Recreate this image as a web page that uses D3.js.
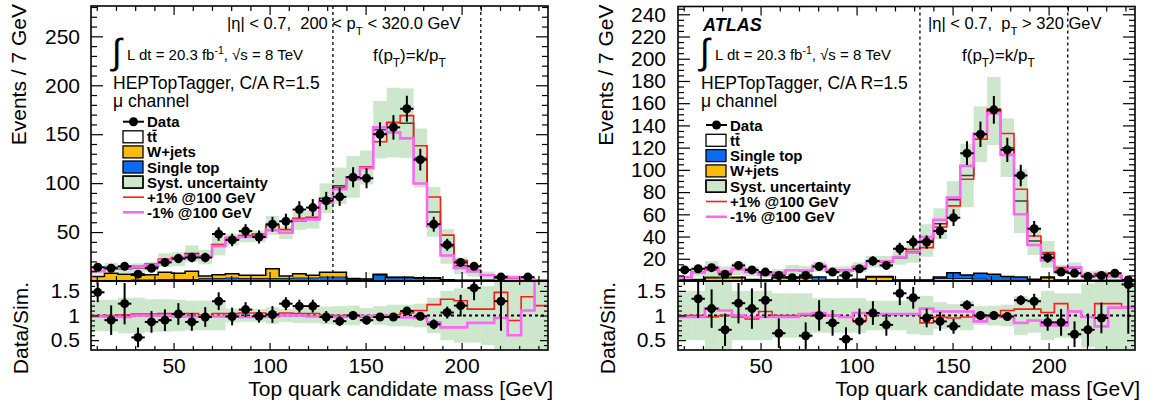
<!DOCTYPE html>
<html>
<head>
<meta charset="utf-8">
<script src="https://cdn.jsdelivr.net/npm/d3@7/dist/d3.min.js"></script>
<style>
  body { margin: 0; background: #fff; }
  svg { display: block; font-family: "Liberation Sans", Arial, Helvetica, sans-serif; }
  text { white-space: pre; }
</style>
</head>
<body>
<svg id="chart" width="1154" height="408"></svg>
<script>
// 34 bins of 7 GeV, 7..245 GeV
const massEdges = d3.range(7, 246, 7);

// ---------- 200 < pT < 320 GeV ----------
const dataLow = [14, 13, 15, 7, 13, 19, 23, 24, 24, 48, 42, 51, 45, 58, 61, 73, 75, 82, 86, 106,
  105, 150, 157, 176, 124, 58, 37, 19, 15, null, 4, null, 4, null];
const dataErrLow = [3.8, 3.6, 3.9, 2.7, 3.6, 4.4, 4.8, 4.9, 4.9, 6.9, 6.5, 7.1, 6.7, 7.6, 7.8, 8.5, 8.7, 9.1, 9.3, 10.3,
  10.2, 12.2, 12.5, 13.3, 11.1, 7.6, 6.1, 4.4, 3.9, 0, 2, 0, 2, 0];
const nominalLow = [10, 14, 12.1, 13.2, 14.6, 21.2, 22.3, 28, 24.4, 37.4, 42.3, 45.5, 45.6, 56.8, 49.4, 61.6, 63, 84.5, 97.4, 106.4,
  116, 154.6, 161.9, 161.3, 125.7, 70.6, 35.3, 15.5, 9.7, 6, 2.9, 3.3, 1.8, 0.6];
const upLow = [10.5, 13, 13, 15, 17.5, 22.5, 24, 27, 25.5, 37, 44.5, 46.5, 48, 57, 52.5, 64, 65, 81, 95.5, 104.7,
  116.7, 142.3, 162, 169, 138.2, 85.9, 46.9, 21, 11, 6, 4.5, 3, 1.5, 0.5];
const downLow = [10, 12.7, 12.7, 14, 16.5, 21.5, 23, 26, 25, 35.6, 43.5, 44.9, 45, 52, 49.3, 62.3, 63, 80, 93.8, 104,
  115.3, 157, 151.9, 145.7, 99.6, 56.2, 26.1, 13.4, 10, 5.9, 4.2, 3.6, 1.5, 0];
const singleTopLow = [1, 1, 1, 1.5, 1.5, 2, 2, 2, 3, 3, 3.5, 3, 3, 3, 3, 3.5, 3.5, 4.5, 4.5, 2,
  1.5, 6.5, 3.5, 3.5, 3, 3, 1, 0.5, 0.5, 0.5, 0.3, 0.3, 0.3, 0.3];
const wjetsLow = [3.5, 7, 6, 4.5, 5, 7, 6, 8, 2, 3.5, 4, 3, 3, 9.5, 2, 4, 2.5, 4.5, 4.5, 0.5,
  0.5, 0.5, 0.3, 0.3, 0.3, 0.3, 0.3, 0.3, 0.2, 0.2, 0.2, 0.2, 0.2, 0.2];
const systLow = [0.32, 0.32, 0.36, 0.36, 0.33, 0.33, 0.32, 0.3, 0.3, 0.3, 0.14, 0.13, 0.13, 0.17, 0.13, 0.15, 0.15, 0.18, 0.19, 0.2,
  0.15, 0.19, 0.22, 0.22, 0.24, 0.36, 0.5, 0.55, 0.55, 0.6, 0.8, 0.8, 0.8, 0.8];
const ratioLow = [1.47, 0.905, 1.24, 0.555, 0.87, 0.905, 1.03, 0.87, 0.97, 1.29, 0.98, 1.12, 0.985, 1.02, 1.24, 1.19, 1.19, 0.97, 0.885, 1.0,
  0.905, 0.97, 0.97, 1.09, 0.985, 0.82, 1.06, 1.2, 1.56, null, 1.29, null, null, null];
const ratioErrLow = [0.2, 0.3, 0.42, 0.2, 0.22, 0.22, 0.22, 0.18, 0.2, 0.18, 0.18, 0.15, 0.13, 0.17, 0.13, 0.13, 0.13, 0.12, 0.1, 0.09,
  0.09, 0.08, 0.08, 0.08, 0.08, 0.1, 0.12, 0.22, 0.25, 0, 0.6, 0, 0, 0];
const upRatioLow = [1.0, 1.0, 1.01, 1.03, 1.03, 1.04, 1.04, 1.04, 1.0, 1.04, 1.04, 1.05, 1.05, 1.02, 1.05, 1.04, 1.04, 1.0, 1.0, 1.0,
  0.97, 0.97, 1.0, 1.05, 1.1, 1.22, 1.33, 1.3, 1.13, 1.13, 1.47, 0.9, 1.38, 1.2];
const downRatioLow = [0.98, 0.97, 0.97, 1.0, 1.0, 1.0, 0.98, 0.98, 0.98, 0.98, 1.0, 0.97, 0.98, 0.98, 1.0, 1.0, 0.98, 0.97, 0.97, 0.99,
  0.99, 1.0, 0.98, 0.96, 0.95, 0.86, 0.76, 0.76, 0.85, 0.85, 0.95, 0.6, 1.1, 1.75];

// ---------- pT > 320 GeV ----------
const dataHigh = [10, 11, 12, 6, 14, 10, 8, 5, 3, 5, 13, 8, 5, 11, 18, 14, 29, 35, 35, 45,
  57, 115, 132, 154, 118, 95, 47, 21, 8, 7, 4, 5, 7, 1];
const dataErrHigh = [3.2, 3.3, 3.5, 2.4, 3.7, 3.2, 2.8, 2.2, 1.7, 2.2, 3.6, 2.8, 2.2, 3.3, 4.2, 3.7, 5.4, 5.9, 5.9, 6.7,
  7.5, 10.7, 11.5, 12.4, 10.9, 9.7, 6.9, 4.6, 2.8, 2.6, 2, 2.2, 2.6, 1];
const nominalHigh = [3.5, 7.8, 10.5, 7.7, 10.8, 8.5, 6, 7.5, 10, 9.2, 13, 9.4, 9.8, 12.5, 17.4, 17.3, 21, 26.5, 36.5, 51.5,
  73, 95, 132, 153, 120, 72, 36, 24, 10, 11.5, 5.3, 5.5, 4, 0.6];
const upHigh = [3.5, 7.8, 10, 7.7, 10.5, 8, 6.5, 7.5, 10, 9.2, 13.4, 9.4, 9.5, 11.3, 17.8, 17.6, 21.4, 28.6, 30, 48.6,
  67.6, 91.6, 127.7, 154.7, 132.7, 82.6, 40.5, 25.5, 12, 12.4, 5.2, 6.8, 5, 0.7];
const downHigh = [3.4, 7.6, 12, 8.5, 10.8, 8.2, 5.8, 7.3, 9.7, 9.5, 13.7, 9.4, 9.5, 13, 18, 17.8, 21.6, 25.5, 39.6, 55,
  75, 103.6, 132.7, 150.7, 113.5, 60, 32.4, 18.6, 8, 12.4, 5.1, 4.3, 4.6, 0.7];
const singleTopHigh = [0.3, 0.3, 0.3, 0.3, 0.3, 0.3, 0.3, 0.5, 0.5, 0.5, 3, 0.5, 0.5, 0.5, 0.5, 0.5, 0.5, 0.5, 0.5, 1,
  5, 3, 5, 5, 3.5, 3, 1, 0.5, 0.5, 0.3, 0.3, 0.3, 0.3, 0.3];
const wjetsHigh = [0.5, 1, 3, 3, 3, 1, 0.5, 3, 3, 3, 0.5, 0.5, 0.5, 1, 3.5, 3.5, 0.5, 0.5, 0.5, 2.5,
  2.5, 2.5, 2, 1, 0.5, 0.5, 0.5, 3, 0.5, 0.3, 0.3, 0.3, 0.3, 0.3];
const systHigh = [0.5, 0.5, 0.7, 0.7, 0.5, 0.5, 0.5, 0.45, 0.45, 0.45, 0.35, 0.35, 0.35, 0.35, 0.3, 0.3, 0.3, 0.38, 0.4, 0.27,
  0.23, 0.3, 0.19, 0.2, 0.22, 0.4, 0.35, 0.5, 0.45, 0.45, 0.65, 0.7, 0.7, 0.7];
const ratioHigh = [null, 1.34, 1.14, 0.71, 1.25, 1.14, 1.31, 0.64, null, 0.59, 1.0, 0.85, 0.52, 0.88, 1.05, 0.81, 1.45, 1.36, 0.95, 0.88,
  0.78, 1.21, 1.0, 1.0, 0.98, 1.31, 1.29, 0.86, 0.86, 0.62, 0.71, 0.95, null, 1.63];
const ratioErrHigh = [0, 0.39, 0.39, 0.33, 0.41, 0.41, 0.36, 0.3, 0, 0.27, 0.31, 0.26, 0.24, 0.26, 0.24, 0.22, 0.24, 0.22, 0.19, 0.19,
  0.15, 0.1, 0.08, 0.08, 0.08, 0.1, 0.15, 0.17, 0.27, 0.26, 0.33, 0.31, 0, 1.0];
const upRatioHigh = [1.0, 1.0, 0.97, 1.0, 0.97, 0.93, 1.08, 1.0, 1.0, 1.0, 1.03, 1.0, 0.97, 0.9, 1.02, 1.02, 1.02, 1.02, 0.85, 0.97,
  0.95, 0.97, 0.97, 1.0, 1.1, 1.13, 1.13, 1.06, 1.24, 1.08, 0.97, 1.24, 1.24, 1.17];
const downRatioHigh = [0.97, 0.97, 1.14, 1.1, 1.0, 0.97, 0.97, 0.97, 0.97, 1.03, 1.05, 1.0, 0.97, 1.05, 1.03, 1.03, 1.03, 1.03, 1.14, 1.08,
  1.08, 1.08, 0.88, 0.98, 0.97, 0.85, 0.9, 0.8, 0.8, 1.08, 0.97, 0.78, 1.16, 1.16];

const colOrange = '#fcbc0c', colBlue = '#0b6cf2', colGreen = 'rgb(120,190,120)', colRed = '#ff1a1a', colPink = '#ff66f4';

const svg = d3.select('#chart');
const defs = svg.append('defs');

function stepPath(x, y, vals, fromZero) {
  let p = fromZero ? `M${x(massEdges[0])},${y(0)}` : `M${x(massEdges[0])},${y(vals[0])}`;
  vals.forEach((v, i) => { p += `V${y(v)}H${x(massEdges[i + 1])}`; });
  return p;
}

function richText(g, x, y, parts, size, weight) {
  const t = g.append('text').attr('x', x).attr('y', y).attr('font-size', size);
  if (weight) t.attr('font-weight', weight);
  let shift = 0;
  parts.forEach(([s, kind]) => {
    const target = kind === 'sub' ? size * 0.38 : kind === 'sup' ? -size * 0.4 : 0;
    const ts = t.append('tspan').text(s).attr('dy', target - shift);
    if (kind) ts.attr('font-size', size * 0.7);
    shift = target;
  });
  return t;
}

function styleAxis(a, fontSize) {
  a.attr('font-family', null).attr('font-size', fontSize);
  a.select('.domain').remove();
  a.selectAll('line').attr('stroke', '#000').attr('stroke-width', 1.2);
  a.selectAll('text').attr('fill', '#000');
}

function drawPanel(p) {
  const x = d3.scaleLinear().domain([7, 245]).range([p.x0, p.x1]);
  const y = d3.scaleLinear().domain([0, p.yMax]).range([p.mid, p.top]);
  const yr = d3.scaleLinear().domain([0.3, 1.7]).range([p.bot, p.mid]);
  const g = svg.append('g');

  defs.append('clipPath').attr('id', 'main-' + p.id)
    .append('rect').attr('x', p.x0).attr('y', p.top).attr('width', p.x1 - p.x0).attr('height', p.mid - p.top);
  defs.append('clipPath').attr('id', 'ratio-' + p.id)
    .append('rect').attr('x', p.x0).attr('y', p.mid).attr('width', p.x1 - p.x0).attr('height', p.bot - p.mid);

  const main = g.append('g').attr('clip-path', `url(#main-${p.id})`);
  const bins = massEdges.slice(0, -1).map((lo, i) => ({ lo, hi: massEdges[i + 1], i }));

  // stacked backgrounds
  let base = bins.map(() => 0);
  p.stack.forEach(layer => {
    const upper = base.map((b, i) => b + layer.values[i]);
    main.append('g').selectAll('rect').data(bins).join('rect')
      .attr('x', d => x(d.lo)).attr('width', d => x(d.hi) - x(d.lo))
      .attr('y', d => y(upper[d.i])).attr('height', d => y(base[d.i]) - y(upper[d.i]))
      .attr('fill', layer.colour);
    main.append('path').attr('d', stepPath(x, y, upper, true))
      .attr('fill', 'none').attr('stroke', '#000').attr('stroke-width', 1.5);
    base = upper;
  });
  // ttbar outline = total prediction
  main.append('path').attr('d', stepPath(x, y, p.nominal, true))
    .attr('fill', 'none').attr('stroke', '#000').attr('stroke-width', 1.5);

  // systematic band
  main.append('g').selectAll('rect').data(bins).join('rect')
    .attr('x', d => x(d.lo)).attr('width', d => x(d.hi) - x(d.lo))
    .attr('y', d => y(p.nominal[d.i] * (1 + p.syst[d.i])))
    .attr('height', d => y(p.nominal[d.i] * (1 - p.syst[d.i])) - y(p.nominal[d.i] * (1 + p.syst[d.i])))
    .attr('fill', colGreen).attr('fill-opacity', 0.37);

  main.append('path').attr('d', stepPath(x, y, p.up, true))
    .attr('fill', 'none').attr('stroke', colRed).attr('stroke-width', 1.6);
  main.append('path').attr('d', stepPath(x, y, p.down, true))
    .attr('fill', 'none').attr('stroke', colPink).attr('stroke-width', 2.6);

  // fit-range markers
  p.fitRange.forEach(m => {
    main.append('line').attr('x1', x(m)).attr('x2', x(m)).attr('y1', p.top).attr('y2', p.mid)
      .attr('stroke', '#000').attr('stroke-width', 1.3).attr('stroke-dasharray', '3,3');
  });

  // data
  const pts = bins.filter(d => p.data[d.i] !== null);
  const dg = main.append('g');
  dg.selectAll('.ev').data(pts).join('line')
    .attr('x1', d => x((d.lo + d.hi) / 2)).attr('x2', d => x((d.lo + d.hi) / 2))
    .attr('y1', d => y(p.data[d.i] - p.dataErr[d.i])).attr('y2', d => y(p.data[d.i] + p.dataErr[d.i]))
    .attr('stroke', '#000').attr('stroke-width', 2);
  dg.selectAll('.eh').data(pts).join('line')
    .attr('x1', d => x(d.lo)).attr('x2', d => x(d.hi))
    .attr('y1', d => y(p.data[d.i])).attr('y2', d => y(p.data[d.i]))
    .attr('stroke', '#000').attr('stroke-width', 2);
  dg.selectAll('circle').data(pts).join('circle')
    .attr('cx', d => x((d.lo + d.hi) / 2)).attr('cy', d => y(p.data[d.i])).attr('r', 4.5).attr('fill', '#000');

  // ratio panel
  const rat = g.append('g').attr('clip-path', `url(#ratio-${p.id})`);
  rat.append('g').selectAll('rect').data(bins).join('rect')
    .attr('x', d => x(d.lo)).attr('width', d => x(d.hi) - x(d.lo))
    .attr('y', d => yr(1 + p.syst[d.i])).attr('height', d => yr(1 - p.syst[d.i]) - yr(1 + p.syst[d.i]))
    .attr('fill', colGreen).attr('fill-opacity', 0.37);
  rat.append('line').attr('x1', p.x0).attr('x2', p.x1).attr('y1', yr(1)).attr('y2', yr(1))
    .attr('stroke', '#000').attr('stroke-width', 2).attr('stroke-dasharray', '3,3');
  rat.append('path').attr('d', stepPath(x, yr, p.upRatio, false))
    .attr('fill', 'none').attr('stroke', colRed).attr('stroke-width', 1.6);
  rat.append('path').attr('d', stepPath(x, yr, p.downRatio, false))
    .attr('fill', 'none').attr('stroke', colPink).attr('stroke-width', 2.6);
  const rpts = bins.filter(d => p.ratio[d.i] !== null);
  rat.selectAll('.rv').data(rpts).join('line')
    .attr('x1', d => x((d.lo + d.hi) / 2)).attr('x2', d => x((d.lo + d.hi) / 2))
    .attr('y1', d => yr(p.ratio[d.i] - p.ratioErr[d.i])).attr('y2', d => yr(p.ratio[d.i] + p.ratioErr[d.i]))
    .attr('stroke', '#000').attr('stroke-width', 2);
  rat.selectAll('.rh').data(rpts).join('line')
    .attr('x1', d => x(d.lo)).attr('x2', d => x(d.hi))
    .attr('y1', d => yr(p.ratio[d.i])).attr('y2', d => yr(p.ratio[d.i]))
    .attr('stroke', '#000').attr('stroke-width', 2);
  rat.selectAll('circle').data(rpts).join('circle')
    .attr('cx', d => x((d.lo + d.hi) / 2)).attr('cy', d => yr(p.ratio[d.i])).attr('r', 4.5).attr('fill', '#000');

  // axes (ticks inside, ROOT style)
  const xMajor = [50, 100, 150, 200];
  const xMinor = d3.range(10, 245, 10).filter(v => v % 50 !== 0);
  const none = () => '';
  [[p.mid, d3.axisBottom, 9, 5], [p.top, d3.axisTop, 9, 5], [p.mid, d3.axisTop, 7, 4]].forEach(([yy, ax, big, small]) => {
    styleAxis(g.append('g').attr('transform', `translate(0,${yy})`).call(ax(x).tickValues(xMajor).tickSize(-big).tickFormat(none)), 21);
    styleAxis(g.append('g').attr('transform', `translate(0,${yy})`).call(ax(x).tickValues(xMinor).tickSize(-small).tickFormat(none)), 21);
  });
  styleAxis(g.append('g').attr('transform', `translate(0,${p.bot})`)
    .call(d3.axisBottom(x).tickValues(xMajor).tickSize(-7).tickPadding(8)), 21);
  styleAxis(g.append('g').attr('transform', `translate(0,${p.bot})`)
    .call(d3.axisBottom(x).tickValues(xMinor).tickSize(-4).tickFormat(none)), 21);

  styleAxis(g.append('g').attr('transform', `translate(${p.x0},0)`)
    .call(d3.axisLeft(y).tickValues(p.yMajor).tickSize(-12).tickPadding(p.labelPad)), 21);
  styleAxis(g.append('g').attr('transform', `translate(${p.x0},0)`)
    .call(d3.axisLeft(y).tickValues(p.yMinor).tickSize(-6).tickFormat(none)), 21);
  styleAxis(g.append('g').attr('transform', `translate(${p.x1},0)`)
    .call(d3.axisRight(y).tickValues(p.yMajor).tickSize(-12).tickFormat(none)), 21);
  styleAxis(g.append('g').attr('transform', `translate(${p.x1},0)`)
    .call(d3.axisRight(y).tickValues(p.yMinor).tickSize(-6).tickFormat(none)), 21);

  const rMajor = [0.5, 1, 1.5];
  const rMinor = d3.range(4, 17).filter(v => v % 5 !== 0).map(v => v / 10);
  styleAxis(g.append('g').attr('transform', `translate(${p.x0},0)`)
    .call(d3.axisLeft(yr).tickValues(rMajor).tickSize(-8).tickPadding(p.labelPad).tickFormat(d => d === 1 ? '1' : d)), 21);
  styleAxis(g.append('g').attr('transform', `translate(${p.x0},0)`)
    .call(d3.axisLeft(yr).tickValues(rMinor).tickSize(-4).tickFormat(none)), 21);
  styleAxis(g.append('g').attr('transform', `translate(${p.x1},0)`)
    .call(d3.axisRight(yr).tickValues(rMajor).tickSize(-8).tickFormat(none)), 21);
  styleAxis(g.append('g').attr('transform', `translate(${p.x1},0)`)
    .call(d3.axisRight(yr).tickValues(rMinor).tickSize(-4).tickFormat(none)), 21);

  // frames
  g.append('rect').attr('x', p.x0).attr('y', p.top).attr('width', p.x1 - p.x0).attr('height', p.mid - p.top)
    .attr('fill', 'none').attr('stroke', '#000').attr('stroke-width', 1.6);
  g.append('rect').attr('x', p.x0).attr('y', p.mid).attr('width', p.x1 - p.x0).attr('height', p.bot - p.mid)
    .attr('fill', 'none').attr('stroke', '#000').attr('stroke-width', 1.6);

  // axis titles
  g.append('text').attr('transform', `translate(${p.yTitleX},${p.top - 2}) rotate(-90)`)
    .attr('text-anchor', 'end').attr('font-size', 21).text('Events / 7 GeV');
  g.append('text').attr('transform', `translate(${p.yTitleX + 2},${p.mid + 1}) rotate(-90)`)
    .attr('text-anchor', 'end').attr('font-size', 21).text('Data/Sim.');
  g.append('text').attr('x', p.x1 + 5).attr('y', 396).attr('text-anchor', 'end').attr('font-size', 21)
    .text('Top quark candidate mass [GeV]');

  // labels
  const tx = p.textX;
  if (p.atlas) {
    g.append('text').attr('x', tx + 2).attr('y', 31).attr('font-size', 18)
      .attr('font-weight', 'bold').attr('font-style', 'italic').text('ATLAS');
  }
  g.append('text').attr('x', tx - 1).attr('y', 64).attr('font-size', 36).text('\u222B');
  richText(g, tx + 14, 60, [['L dt = 20.3 fb'], ['-1', 'sup'], [', \u221As = 8 TeV']], 15);
  g.append('text').attr('x', tx).attr('y', 89).attr('font-size', 17.5).text('HEPTopTagger, C/A R=1.5');
  g.append('text').attr('x', tx).attr('y', 107).attr('font-size', 17.5).text('\u03BC channel');
  richText(g, p.etaX, 29, p.etaText, 16.5);
  richText(g, p.fX, 61, [['f(p'], ['T', 'sub'], [')=k/p'], ['T', 'sub']], 17);

  // legend
  const lg = g.append('g');
  p.legend.forEach((item, k) => {
    const cy = p.legY + k * p.legStep;
    const bx = p.legX;
    if (item.kind === 'data') {
      lg.append('line').attr('x1', bx).attr('x2', bx + 21).attr('y1', cy).attr('y2', cy)
        .attr('stroke', '#000').attr('stroke-width', 2);
      lg.append('circle').attr('cx', bx + 10.5).attr('cy', cy).attr('r', 4.5).attr('fill', '#000');
    } else if (item.kind === 'box') {
      lg.append('rect').attr('x', bx).attr('y', cy - 6).attr('width', 20).attr('height', 12)
        .attr('fill', item.colour).attr('fill-opacity', item.opacity || 1)
        .attr('stroke', '#000').attr('stroke-width', 1.3);
      if (item.opacity) {
        lg.append('rect').attr('x', bx).attr('y', cy - 6).attr('width', 20).attr('height', 12)
          .attr('fill', 'none').attr('stroke', '#000').attr('stroke-width', 1.3);
      }
    } else {
      lg.append('line').attr('x1', bx).attr('x2', bx + 21).attr('y1', cy).attr('y2', cy)
        .attr('stroke', item.colour).attr('stroke-width', item.width);
    }
    lg.append('text').attr('x', bx + 24).attr('y', cy + 5.5).attr('font-size', 15)
      .attr('font-weight', 'bold').text(item.label);
    if (item.bar) {
      // anti-top bar over the second "t" (bold t advance = 0.333 em)
      lg.append('line').attr('x1', bx + 24 + 5.4).attr('x2', bx + 24 + 9.6)
        .attr('y1', cy - 6.5).attr('y2', cy - 6.5).attr('stroke', '#000').attr('stroke-width', 1.4);
    }
  });
}

const legendCommon = {
  data: { kind: 'data', label: 'Data' },
  tt: { kind: 'box', colour: '#fff', label: 'tt', bar: true },
  wjets: { kind: 'box', colour: colOrange, label: 'W+jets' },
  st: { kind: 'box', colour: colBlue, label: 'Single top' },
  syst: { kind: 'box', colour: colGreen, opacity: 0.37, label: 'Syst. uncertainty' },
  up: { kind: 'line', colour: colRed, width: 1.6, label: '+1% @100 GeV' },
  down: { kind: 'line', colour: colPink, width: 2.6, label: '-1% @100 GeV' }
};

drawPanel({
  id: 'low', x0: 91, x1: 548, top: 6, mid: 281, bot: 350, yMax: 281,
  yMajor: d3.range(50, 251, 50), yMinor: d3.range(10, 281, 10).filter(v => v % 50 !== 0), labelPad: 11,
  yTitleX: 26, textX: 113, etaX: 227, fX: 373, fitRange: [133, 210], atlas: false,
  etaText: [['|\u03B7| < 0.7,  200 < p'], ['T', 'sub'], [' < 320.0 GeV']],
  data: dataLow, dataErr: dataErrLow, nominal: nominalLow, up: upLow, down: downLow, syst: systLow,
  ratio: ratioLow, ratioErr: ratioErrLow, upRatio: upRatioLow, downRatio: downRatioLow,
  stack: [{ values: singleTopLow, colour: colBlue }, { values: wjetsLow, colour: colOrange }],
  legX: 123, legY: 121.7, legStep: 15.1,
  legend: [legendCommon.data, legendCommon.tt, legendCommon.wjets, legendCommon.st, legendCommon.syst, legendCommon.up, legendCommon.down]
});

drawPanel({
  id: 'high', x0: 678, x1: 1135, top: 6.5, mid: 281, bot: 350, yMax: 247,
  yMajor: d3.range(20, 241, 20), yMinor: d3.range(5, 247, 5).filter(v => v % 20 !== 0), labelPad: 12,
  yTitleX: 613, textX: 701, etaX: 928, fX: 962, fitRange: [133, 210], atlas: true,
  etaText: [['|\u03B7| < 0.7,  p'], ['T', 'sub'], [' > 320 GeV']],
  data: dataHigh, dataErr: dataErrHigh, nominal: nominalHigh, up: upHigh, down: downHigh, syst: systHigh,
  ratio: ratioHigh, ratioErr: ratioErrHigh, upRatio: upRatioHigh, downRatio: downRatioHigh,
  stack: [{ values: wjetsHigh, colour: colOrange }, { values: singleTopHigh, colour: colBlue }],
  legX: 706, legY: 125, legStep: 15.3,
  legend: [legendCommon.data, legendCommon.tt, legendCommon.st, legendCommon.wjets, legendCommon.syst, legendCommon.up, legendCommon.down]
});
</script>
</body>
</html>
